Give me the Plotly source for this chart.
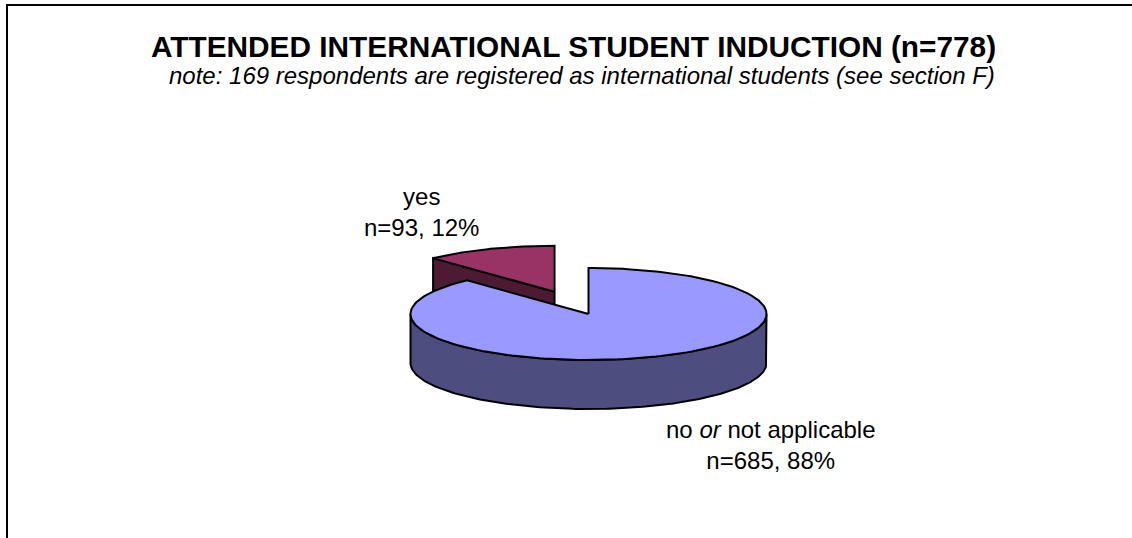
import numpy as np
import plotly.graph_objects as go

# Survey answers, in clockwise order from 12 o'clock
categories = ["no <i>or</i> not applicable", "yes"]
counts = [685, 93]
top_colors = ["#9999FF", "#993366"]
side_colors = ["#4D4D80", "#4D1A33"]
explode = [0.0, 0.52]

title_text = "ATTENDED INTERNATIONAL STUDENT INDUCTION (n=778)"
note_text = "note: 169 respondents are registered as international students (see section F)"

# Geometry of the tilted pie (pixel units of the page)
W, H = 1132, 538
CX, CY = 588.5, 314.0
RX, RY = 178.0, 46.0
DEPTH = 49.0
START_DEG = 90.0
EDGE = dict(color="black", width=2)

total = float(sum(counts))


def rim(t, ox, oy, z=0.0):
    return CX + ox + RX * np.cos(t), CY + oy - RY * np.sin(t) + z


def arc(ta, tb, ox, oy, z=0.0, n=200):
    t = np.linspace(ta, tb, n)
    return rim(t, ox, oy, z)


fig = go.Figure()

# chart frame: only its left and top edges fall inside the page
fig.add_trace(go.Scatter(
    x=[7, 7, W], y=[H, 5, 5], mode="lines",
    line=dict(color="black", width=2),
    hoverinfo="skip", showlegend=False, cliponaxis=True))

slices = []
cum = 0.0
for i, v in enumerate(counts):
    t0 = np.radians(START_DEG - cum / total * 360.0)
    t1 = np.radians(START_DEG - (cum + v) / total * 360.0)
    cum += v
    tm = 0.5 * (t0 + t1)
    ox = explode[i] * RX * np.cos(tm)
    oy = -explode[i] * RY * np.sin(tm)
    slices.append((i, t0, t1, tm, ox, oy))

# paint the slices lying further back first
slices.sort(key=lambda s: s[5])


def add_poly(xs, ys, color):
    fig.add_trace(go.Scatter(
        x=list(xs) + [xs[0]], y=list(ys) + [ys[0]], mode="lines",
        fill="toself", fillcolor=color, line=EDGE,
        hoverinfo="skip", showlegend=False))


for i, t0, t1, tm, ox, oy in slices:
    ax, ay = CX + ox, CY + oy
    # radial cut faces that turn towards the viewer
    for t, visible in ((t0, np.cos(t0) < -1e-9), (t1, np.cos(t1) > 1e-9)):
        if visible:
            rx, ry = rim(t, ox, oy)
            add_poly([ax, rx, rx, ax], [ay, ry, ry + DEPTH, ay + DEPTH], side_colors[i])
    # outer wall on the front half of the rim
    lo, hi = min(t0, t1), max(t0, t1)
    for k in range(-2, 3):
        a = max(lo, np.pi + 2 * np.pi * k)
        b = min(hi, 2 * np.pi + 2 * np.pi * k)
        if b > a:
            xt, yt = arc(a, b, ox, oy)
            xb, yb = arc(b, a, ox, oy, DEPTH)
            add_poly(np.concatenate([xt, xb]), np.concatenate([yt, yb]), side_colors[i])
    # top face
    xt, yt = arc(t0, t1, ox, oy)
    add_poly(np.concatenate([[ax], xt]), np.concatenate([[ay], yt]), top_colors[i])

FONT = "Liberation Sans, Arial, sans-serif"

# slice labels
label_pos = {0: (771, 445), 1: (421, 212)}
for i, name in enumerate(categories):
    pct = round(counts[i] / total * 100)
    lx, ly = label_pos[i]
    fig.add_annotation(
        x=lx, y=ly, xref="x", yref="y", showarrow=False,
        text=f"{name}<br>n={counts[i]}, {pct}%",
        font=dict(family=FONT, size=24, color="black"),
        xanchor="center", yanchor="middle", align="center")

fig.add_annotation(
    x=573.5, y=46.5, xref="x", yref="y", showarrow=False,
    text=f"<b>{title_text}</b>",
    font=dict(family=FONT, size=29.8, color="black"),
    xanchor="center", yanchor="middle")
fig.add_annotation(
    x=581.5, y=75.5, xref="x", yref="y", showarrow=False,
    text=f"<i>{note_text}</i>",
    font=dict(family=FONT, size=24, color="black"),
    xanchor="center", yanchor="middle")

fig.update_layout(
    width=W, height=H,
    margin=dict(l=0, r=0, t=0, b=0),
    paper_bgcolor="white", plot_bgcolor="white",
    xaxis=dict(range=[0, W], visible=False, fixedrange=True),
    yaxis=dict(range=[H, 0], visible=False, fixedrange=True),
    showlegend=False,
)

fig.write_html("out.html", config={"displayModeBar": False})
